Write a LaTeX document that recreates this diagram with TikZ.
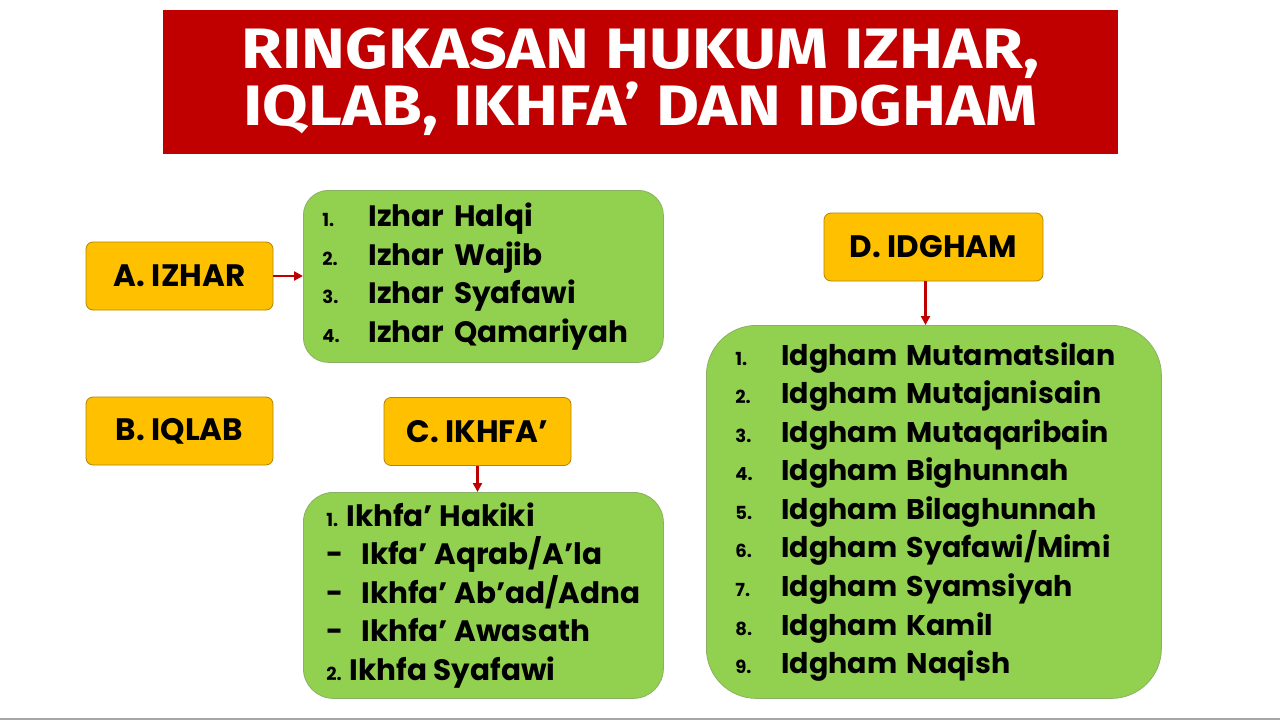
\documentclass[tikz,border=0pt]{standalone}
\usepackage{fontspec}
\setmainfont{Poppins}
\newfontfamily\titlefont[FakeStretch=1.16]{Fira Sans}
\usepackage{tikz}
\usetikzlibrary{positioning, arrows, arrows.meta}
\tikzset{shorten >=0pt, >={Triangle[length=9pt, width=9pt]}}
\definecolor{titlered}{HTML}{C00000}
\definecolor{labelorange}{HTML}{FFC000}
\definecolor{listgreen}{HTML}{92D050}
\definecolor{arrowred}{HTML}{C00000}
\tikzset{
  hukum/.style={draw=labelorange!70!black, fill=labelorange, rounded corners=7pt,
    line width=0.8pt, minimum width=187pt, minimum height=68pt, inner sep=0pt,
    font=\bfseries\fontsize{31}{31}\selectfont},
  daftar/.style={draw=listgreen!60!gray, fill=listgreen, line width=0.8pt,
    align=left, inner ysep=0pt, anchor=north west,
    font=\bfseries\fontsize{29.5}{38.6}\selectfont},
  panah/.style={->, draw=arrowred, fill=arrowred, line width=2.4pt}
}
\newcommand{\nom}[1]{\makebox[46pt][l]{\fontsize{18}{18}\selectfont #1}}
\newcommand{\nomb}[1]{{\fontsize{18}{18}\selectfont #1}}
\begin{document}
\begin{tikzpicture}[x=1pt, y=-1pt]
		\useasboundingbox (0,0) rectangle (1280,720);
		\fill[white] (0,0) rectangle (1280,720);
		\fill[gray!70] (0,717.5) rectangle (1280,720);

		% judul
		\node[fill=titlered, text=white, minimum width=955pt, minimum height=144pt, inner sep=0pt,
			align=center, font=\titlefont\bfseries\fontsize{57}{57}\selectfont] (judul) at (640.5, 82) {RINGKASAN HUKUM IZHAR,\\IQLAB, IKHFA’ DAN IDGHAM};

		% hukum
		\node[hukum] (izhar) at (179.5, 276) {A. IZHAR};
		\node[hukum] (iqlab) at (179.5, 431) {B. IQLAB};
		\node[hukum] (ikhfa) at (477.5, 431.5) {C. IKHFA’};
		\node[hukum, minimum width=219pt] (idgham) at (933.5, 247) {D. IDGHAM};

		% daftar
		\node[daftar, rounded corners=25pt, minimum width=360pt, minimum height=172pt,
			text width=322pt, inner xsep=19pt] (lizhar) at (303, 190) {%
			\nom{1.}Izhar Halqi\\
			\nom{2.}Izhar Wajib\\
			\nom{3.}Izhar Syafawi\\
			\nom{4.}Izhar Qamariyah};
		\node[daftar, rounded corners=30pt, minimum width=360pt, minimum height=206pt,
			inner xsep=0pt] (likhfa) at (303, 492) {%
			\nomb{1.} Ikhfa’ Hakiki\\
			-\hspace{18pt}Ikfa’ Aqrab/A’la\\
			-\hspace{18pt}Ikhfa’ Ab’ad/Adna\\
			-\hspace{18pt}Ikhfa’ Awasath\\
			\nomb{2.} Ikhfa Syafawi};
		\node[daftar, rounded corners=50pt, minimum width=455pt, minimum height=373pt,
			text width=397pt, inner xsep=29pt, font=\bfseries\fontsize{28.5}{38.6}\selectfont] (lidgham) at (706, 325) {%
			\nom{1.}Idgham Mutamatsilan\\
			\nom{2.}Idgham Mutajanisain\\
			\nom{3.}Idgham Mutaqaribain\\
			\nom{4.}Idgham Bighunnah\\
			\nom{5.}Idgham Bilaghunnah\\
			\nom{6.}Idgham Syafawi/Mimi\\
			\nom{7.}Idgham Syamsiyah\\
			\nom{8.}Idgham Kamil\\
			\nom{9.}Idgham Naqish};

		\draw [panah] (izhar) -- (lizhar.west |- izhar);
		\draw [panah] (ikhfa) -- (likhfa.north -| ikhfa);
		\draw [panah] ([xshift=-8pt]idgham.south) -- ([xshift=-8pt]idgham.south |- lidgham.north);
	\end{tikzpicture}
\end{document}
